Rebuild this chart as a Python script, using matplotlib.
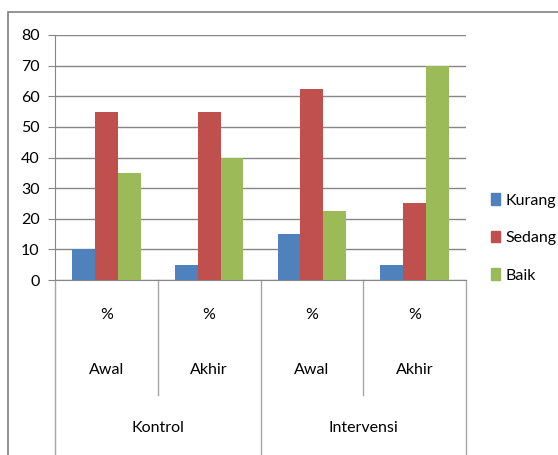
import matplotlib
matplotlib.use("Agg")
import matplotlib.pyplot as plt
import matplotlib.transforms as mtransforms
from matplotlib.patches import Patch, Rectangle
import numpy as np

plt.rcParams['font.family'] = ['Lato', 'DejaVu Sans']

# data
groups = ['Kontrol', 'Intervensi']
times = ['Awal', 'Akhir', 'Awal', 'Akhir']
unit_label = '%'
series = ['Kurang', 'Sedang', 'Baik']
kurang = [10, 5, 15, 5]
sedang = [55, 55, 62.5, 25]
baik = [35, 40, 22.5, 70]
colors = ['#4F81BD', '#C0504D', '#9BBB59']

W, H = 558, 455
fig = plt.figure(figsize=(W / 100, H / 100), dpi=100)

# outer chart frame
fig.patches.append(Rectangle((8 / W, -0.1), 1.2, (H - 12) / H + 0.1,
                             transform=fig.transFigure, fill=False,
                             edgecolor='#808080', linewidth=1.2))

ax = fig.add_axes([55 / W, (H - 280) / H, 411 / W, 245 / H])

x = np.arange(len(times))
width = 1 / 4.5
values = [kurang, sedang, baik]
for k, (name, vals) in enumerate(zip(series, values)):
    ax.bar(x + (k - 1) * width, vals, width, color=colors[k], label=name, zorder=3)

ax.set_xlim(-0.5, len(times) - 0.5)
ax.set_ylim(0, 80)
ax.set_yticks(np.arange(0, 81, 10))
ax.tick_params(axis='y', length=5, color='#868686', labelsize=11.5, pad=6)
ax.set_xticks([])
ax.grid(axis='y', color='#868686', linewidth=1, zorder=0)
for s in ['top', 'right']:
    ax.spines[s].set_visible(False)
for s in ['left', 'bottom']:
    ax.spines[s].set_color('#868686')

# multi-level category axis
trans = mtransforms.blended_transform_factory(ax.transData, ax.transAxes)
for b in np.arange(-0.5, len(times), 1):
    is_outer = (b + 0.5) % 2 == 0
    y_end = -0.8 if is_outer else -0.469
    ax.plot([b, b], [0, y_end], color='#a6a6a6', linewidth=1,
            transform=trans, clip_on=False)
for i, t in enumerate(times):
    ax.text(i, -0.143, unit_label, transform=trans, ha='center', va='center', fontsize=11.5)
    ax.text(i, -0.367, t, transform=trans, ha='center', va='center', fontsize=11.5)
for g, name in enumerate(groups):
    ax.text(2 * g + 0.5, -0.604, name, transform=trans, ha='center', va='center', fontsize=11.5)

handles = [Patch(color=c) for c in colors]
fig.legend(handles, series, loc='center left', bbox_to_anchor=(491 / W, (H - 238) / H),
           bbox_transform=fig.transFigure, frameon=False, borderpad=0, borderaxespad=0,
           handlelength=0.55, handleheight=0.75, handletextpad=0.35, labelspacing=1.45,
           fontsize=11.5)

plt.savefig("out.png", dpi=100)
